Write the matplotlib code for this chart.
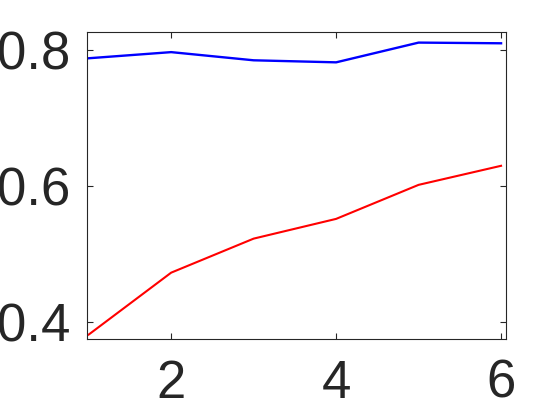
import matplotlib
matplotlib.use("Agg")
import matplotlib.pyplot as plt

# data
x_vals = [1, 2, 3, 4, 5, 6]
blue_vals = [0.788, 0.797, 0.785, 0.782, 0.811, 0.810]
red_vals = [0.382, 0.473, 0.523, 0.552, 0.602, 0.630]
x_ticks = [2, 4, 6]
y_ticks = [0.4, 0.6, 0.8]
y_tick_labels = ["0.4", "0.6", "0.8"]

plt.rcParams['font.family'] = ['Liberation Sans', 'DejaVu Sans']

fig = plt.figure(figsize=(5.6, 4.2), dpi=100)
ax = fig.add_axes([0.156, 0.192, 0.9036 - 0.156, 0.9245 - 0.192])

ax.plot(x_vals, blue_vals, color='#0000ff', linewidth=1.7)
ax.plot(x_vals, red_vals, color='#ff0000', linewidth=1.5)

ax.set_xlim(0.984, 6.06)
ax.set_ylim(0.375, 0.827)
ax.set_xticks(x_ticks)
ax.set_yticks(y_ticks)
ax.set_yticklabels(y_tick_labels)

# matlab-ish box with inward ticks on all sides
dark = '#262626'
for s in ax.spines.values():
    s.set_color(dark)
    s.set_linewidth(0.8)
ax.tick_params(direction='in', length=4, width=0.8, colors=dark,
               labelsize=38, top=True, right=True, pad=12)
ax.tick_params(axis='x', pad=14)

fig.savefig("out.png", dpi=100)
